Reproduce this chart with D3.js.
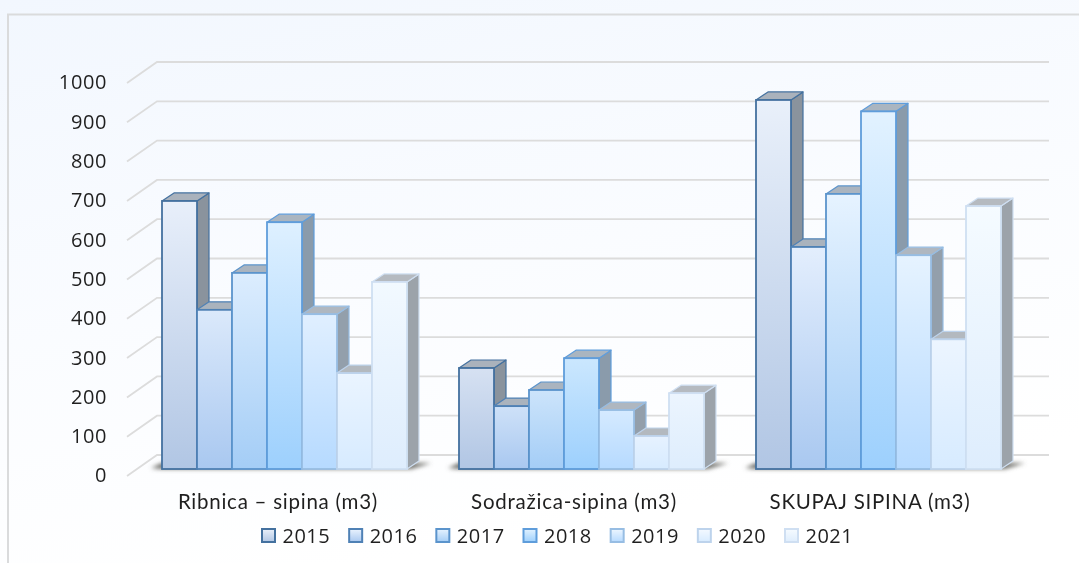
<!DOCTYPE html>
<html>
<head>
<meta charset="utf-8">
<script src="https://cdn.jsdelivr.net/npm/d3@7"></script>
<style>
  html, body { margin: 0; padding: 0; background: #fff; }
  svg { display: block; filter: blur(0.4px); }
  text { font-family: "Open Sans", sans-serif; fill: #1f1f1f; }
</style>
</head>
<body>
<svg id="chart"></svg>
<script>
const categories = ["Ribnica – sipina (m3)", "Sodražica-sipina (m3)", "SKUPAJ SIPINA (m3)"];
const years = ["2015", "2016", "2017", "2018", "2019", "2020", "2021"];
const ribnica = [682, 405, 499, 628, 394, 244, 476];
const sodrazica = [257, 160, 201, 282, 150, 84, 193];
const skupaj = [939, 565, 700, 910, 544, 330, 669];
const yTicks = [0, 100, 200, 300, 400, 500, 600, 700, 800, 900, 1000];

const seriesByCategory = [ribnica, sodrazica, skupaj];

// colours per year: outline, top of the gradient, bottom of the gradient
const outlines = ["#44719f", "#4f81b5", "#5b94cc", "#5f9ddb", "#97bde3", "#bdd3ec", "#cfdff2"];
const faceTop = ["#e9f0fa", "#eaf3fe", "#e6f3ff", "#e2f2ff", "#edf6ff", "#f4f9ff", "#f6fbff"];
const faceBottom = ["#b1c6e4", "#a9c8f0", "#a4cdf6", "#9dd0fd", "#b6daff", "#d7ebff", "#deedfd"];
const sideColor = ["#8a939d", "#8a96a3", "#8a99a8", "#8a9bab", "#939fab", "#9aa2aa", "#9ca3aa"];
const topColor = ["#aab2bc", "#aab3bd", "#aab4bf", "#aab5c0", "#afb7c0", "#b3b9bf", "#b5bac0"];

const width = 1079, height = 563;
const svg = d3.select("#chart").attr("width", width).attr("height", height);
const defs = svg.append("defs");

// page background
const bg = defs.append("linearGradient").attr("id", "bg").attr("x1", 0).attr("y1", 0).attr("x2", 0.35).attr("y2", 1);
bg.append("stop").attr("offset", "0%").attr("stop-color", "#f2f7fe");
bg.append("stop").attr("offset", "55%").attr("stop-color", "#fafcff");
bg.append("stop").attr("offset", "100%").attr("stop-color", "#ffffff");

svg.append("rect").attr("width", width).attr("height", height).attr("fill", "url(#bg)");
svg.append("path")
    .attr("d", "M8,563V14.5H1079")
    .attr("fill", "none")
    .attr("stroke", "#dadbdc")
    .attr("stroke-width", 2);

const shadowBlur = defs.append("filter").attr("id", "shadow")
    .attr("x", "-20%").attr("y", "-100%").attr("width", "140%").attr("height", "300%");
shadowBlur.append("feGaussianBlur").attr("stdDeviation", 2);

const y = d3.scaleLinear().domain([0, 1000]).range([469, 76]);
const x0 = d3.scaleBand().domain(categories).range([136, 1027]);
const barsWidth = 245;
const x1 = d3.scaleBand().domain(years).range([0, barsWidth]);
const labelX = d3.scalePoint().domain(categories).range([278, 870]);

// depth of the bars and of the whole plot box
const barDx = 12, barDy = 8;
const boxLeft = 127, boxRight = 1019, boxDx = 30, boxDy = 21, frontOffset = 7;

// gridlines: slanted part on the left wall, then along the back wall
svg.append("g").selectAll("path")
    .data(yTicks)
    .join("path")
    .attr("d", d => {
        let f = y(d) + frontOffset;
        return `M${boxLeft},${f}L${boxLeft + boxDx},${f - boxDy}H${boxRight + boxDx}`;
    })
    .attr("fill", "none")
    .attr("stroke", "#dcdcdc")
    .attr("stroke-width", 1.8);

const barsLeft = c => x0(c) + (x0.bandwidth() - barsWidth) / 2;

// soft shadow on the floor under each group
svg.append("g").selectAll("path")
    .data(categories)
    .join("path")
    .attr("d", c => {
        let l = barsLeft(c), b = y(0);
        return `M${l - 11},${b - 1}L${l},${b - 6}H${l + barsWidth + 24}L${l + barsWidth + 4},${b}H${l}Z`;
    })
    .attr("fill", "#6d6d68")
    .attr("filter", "url(#shadow)");

categories.forEach(function (cat, c) {
    let group = svg.append("g");
    let left = barsLeft(cat);
    let bars = group.selectAll("g")
        .data(years.map((yr, i) => ({ year: yr, i: i, value: seriesByCategory[c][i] })))
        .join("g");

    // gradient of each bar follows its own height, a little
    bars.each(function (d) {
        let id = `bar${c}_${d.i}`;
        let top = d3.interpolateRgb(faceTop[d.i], faceBottom[d.i])(Math.max(0, (1 - d.value / 700) * 0.55));
        let g = defs.append("linearGradient").attr("id", id)
            .attr("gradientUnits", "userSpaceOnUse")
            .attr("x1", 0).attr("x2", 0).attr("y1", y(d.value)).attr("y2", y(0));
        g.append("stop").attr("offset", "0%").attr("stop-color", top);
        g.append("stop").attr("offset", "100%").attr("stop-color", faceBottom[d.i]);
    });

    const barX = d => left + x1(d.year);
    const w = x1.bandwidth();

    bars.append("path") // side
        .attr("d", d => {
            let r = barX(d) + w, t = y(d.value), b = y(0);
            return `M${r},${t}L${r + barDx},${t - barDy}V${b - barDy}L${r},${b}Z`;
        })
        .attr("fill", d => sideColor[d.i])
        .attr("stroke", d => outlines[d.i])
        .attr("stroke-width", 1.2)
        .attr("stroke-linejoin", "round");

    bars.append("path") // top
        .attr("d", d => {
            let l = barX(d), t = y(d.value);
            return `M${l},${t}L${l + barDx},${t - barDy}H${l + w + barDx}L${l + w},${t}Z`;
        })
        .attr("fill", d => topColor[d.i])
        .attr("stroke", d => outlines[d.i])
        .attr("stroke-width", 1.2)
        .attr("stroke-linejoin", "round");

    bars.append("rect") // front
        .attr("x", d => barX(d))
        .attr("y", d => y(d.value))
        .attr("width", w)
        .attr("height", d => y(0) - y(d.value))
        .attr("fill", d => `url(#bar${c}_${d.i})`)
        .attr("stroke", d => outlines[d.i])
        .attr("stroke-width", 1.8);
});

// value axis, sits at the front of the box
const yAxis = d3.axisLeft(y).tickValues(yTicks).tickSize(0).tickPadding(0).tickFormat(d3.format("d"));
const axisG = svg.append("g")
    .attr("transform", `translate(107,${frontOffset - 0.5})`)
    .call(yAxis);
axisG.select(".domain").remove();
axisG.selectAll("text")
    .style("font-size", "20px")
    .style("letter-spacing", "0.6px")
    .style("font-family", "'Open Sans', sans-serif")
    .style("fill", "#1f1f1f");

// category labels
svg.append("g").selectAll("text")
    .data(categories)
    .join("text")
    .attr("x", c => labelX(c))
    .attr("y", 509)
    .attr("text-anchor", "middle")
    .style("font-family", "Lato, sans-serif")
    .style("font-size", "20.5px")
    .style("letter-spacing", "0.75px")
    .text(c => c);

// legend
const legendX = d3.scalePoint().domain(years).range([262, 785]);
const legend = svg.append("g").selectAll("g")
    .data(years)
    .join("g")
    .attr("transform", d => `translate(${legendX(d)},529)`);

years.forEach(function (year, i) {
    let g = defs.append("linearGradient").attr("id", "leg" + i).attr("x1", 0).attr("x2", 0).attr("y1", 0).attr("y2", 1);
    g.append("stop").attr("offset", "0%").attr("stop-color", faceTop[i]);
    g.append("stop").attr("offset", "100%").attr("stop-color", faceBottom[i]);
});

legend.append("rect")
    .attr("width", 13)
    .attr("height", 13)
    .attr("fill", (d, i) => `url(#leg${i})`)
    .attr("stroke", (d, i) => outlines[i])
    .attr("stroke-width", 2);

legend.append("text")
    .attr("x", 20.5)
    .attr("y", 14)
    .style("font-size", "20px")
    .style("letter-spacing", "0.5px")
    .text(d => d);
</script>
</body>
</html>
